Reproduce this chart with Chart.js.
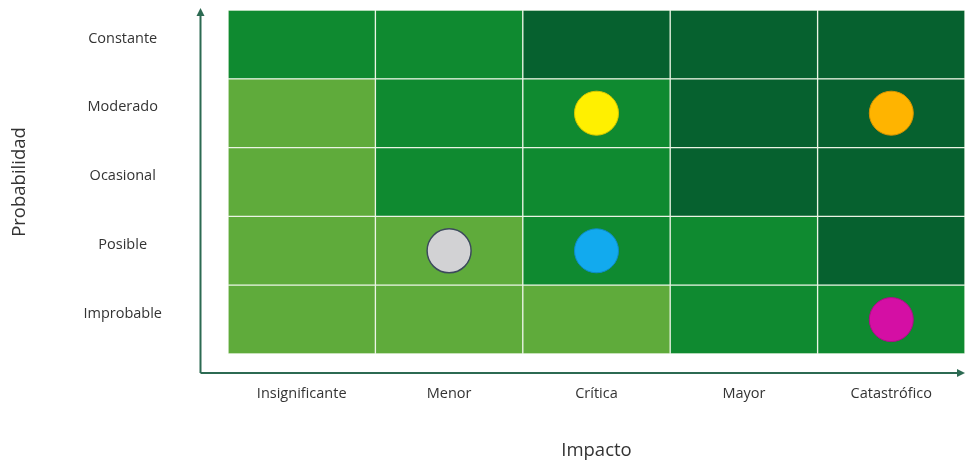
<!DOCTYPE html>
<html>
<head>
<meta charset="utf-8">
<script src="https://cdn.jsdelivr.net/npm/chart.js@4/dist/chart.umd.min.js"></script>
<style>
  html, body { margin: 0; padding: 0; background: #fff; }
  #wrap { width: 966px; height: 461px; }
</style>
</head>
<body>
<div id="wrap"><canvas id="riskMatrix"></canvas></div>
<script>
// Impact categories (x) and probability levels (y, bottom to top)
const impactLabels = ['Insignificante', 'Menor', 'Crítica', 'Mayor', 'Catastrófico'];
const probabilityLabels = ['Improbable', 'Posible', 'Ocasional', 'Moderado', 'Constante'];

// Risk level per cell, one row per probability level (bottom to top): 1 low, 2 medium, 3 high
const riskImprobable = [1, 1, 1, 2, 2];
const riskPosible    = [1, 1, 2, 2, 3];
const riskOcasional  = [1, 2, 2, 3, 3];
const riskModerado   = [1, 2, 2, 3, 3];
const riskConstante  = [2, 2, 3, 3, 3];
const riskRows = [riskImprobable, riskPosible, riskOcasional, riskModerado, riskConstante];

// Markers placed on the matrix
const markerImpact = ['Crítica', 'Catastrófico', 'Menor', 'Crítica', 'Catastrófico'];
const markerProbability = ['Moderado', 'Moderado', 'Posible', 'Posible', 'Improbable'];
const markerColors = ['#fff000', '#ffb400', '#d2d2d4', '#12aaee', '#d40fa4'];
const markerBorders = ['#d8c800', '#d89400', '#3c4a5c', '#0e8cc8', '#b00c88'];

const levelColors = { 1: '#5fab3b', 2: '#0f8a30', 3: '#06612f' };

// One floating bar dataset per probability row
const cellDatasets = riskRows.map((row, r) => ({
    type: 'bar',
    label: probabilityLabels[r],
    data: row.map(() => [r, r + 1]),
    backgroundColor: row.map(level => levelColors[level]),
    borderColor: '#eaf4e4',
    borderWidth: 1,
    borderSkipped: false,
    barPercentage: 1,
    categoryPercentage: 1,
    grouped: false,
    order: 2
}));

const markerDatasets = markerImpact.map((impact, i) => ({
    type: 'scatter',
    label: impact + ' / ' + markerProbability[i],
    data: [{ x: impact, y: probabilityLabels.indexOf(markerProbability[i]) + 0.5 }],
    pointRadius: 22,
    pointHoverRadius: 22,
    backgroundColor: markerColors[i],
    borderColor: markerBorders[i],
    borderWidth: i === 2 ? 1.5 : 1,
    order: 1
}));

// Draws the two axis arrows just outside the plot area
const axisArrows = {
    id: 'axisArrows',
    afterDraw(chart) {
        const { ctx, chartArea } = chart;
        const ax = chartArea.left - 27.5;
        const ay = chartArea.bottom + 19;
        const topY = chartArea.top - 2;
        const rightX = chart.width - 1;
        ctx.save();
        ctx.strokeStyle = '#2c6a52';
        ctx.fillStyle = '#2c6a52';
        ctx.lineWidth = 2;
        ctx.beginPath();
        ctx.moveTo(ax, ay);
        ctx.lineTo(ax, topY + 6);
        ctx.moveTo(ax, ay);
        ctx.lineTo(rightX - 6, ay);
        ctx.stroke();
        ctx.beginPath();
        ctx.moveTo(ax, topY);
        ctx.lineTo(ax - 4, topY + 8);
        ctx.lineTo(ax + 4, topY + 8);
        ctx.closePath();
        ctx.fill();
        ctx.beginPath();
        ctx.moveTo(rightX, ay);
        ctx.lineTo(rightX - 8, ay - 4);
        ctx.lineTo(rightX - 8, ay + 4);
        ctx.closePath();
        ctx.fill();
        ctx.restore();
    }
};

const ctx = document.getElementById('riskMatrix').getContext('2d');
new Chart(ctx, {
    type: 'bar',
    data: {
        labels: impactLabels,
        datasets: [...markerDatasets, ...cellDatasets]
    },
    options: {
        responsive: true,
        maintainAspectRatio: false,
        animation: false,
        layout: { autoPadding: false, padding: { top: 10, right: 1, left: 0, bottom: 0 } },
        plugins: {
            legend: { display: false },
            tooltip: { enabled: false }
        },
        scales: {
            x: {
                type: 'category',
                grid: { display: false, drawTicks: false },
                border: { display: false },
                ticks: {
                    color: '#333',
                    font: { family: 'Open Sans', size: 14.5 },
                    padding: 31,
                    maxRotation: 0
                },
                title: {
                    display: true,
                    text: 'Impacto',
                    color: '#333',
                    font: { family: 'Open Sans', size: 18.5 },
                    padding: { top: 0, bottom: -1 }
                },
                afterFit(scale) {
                    scale.height = 107;
                    scale.paddingLeft = 0;
                    scale.paddingRight = 0;
                }
            },
            y: {
                type: 'linear',
                min: 0,
                max: 5,
                grid: { display: false, drawTicks: false },
                border: { display: false },
                afterBuildTicks(scale) {
                    scale.ticks = probabilityLabels.map((_, i) => ({ value: i + 0.5 }));
                },
                ticks: {
                    color: '#333',
                    font: { family: 'Open Sans', size: 14.5 },
                    crossAlign: 'center',
                    padding: 66,
                    labelOffset: -6,
                    callback: value => probabilityLabels[Math.floor(value)]
                },
                title: {
                    display: true,
                    text: 'Probabilidad',
                    color: '#333',
                    font: { family: 'Open Sans', size: 18.5 },
                    padding: { top: 9, bottom: 0 }
                },
                afterFit(scale) {
                    scale.width = 228;
                    scale.paddingTop = 0;
                    scale.paddingBottom = 0;
                }
            }
        }
    },
    plugins: [axisArrows]
});
</script>
</body>
</html>
